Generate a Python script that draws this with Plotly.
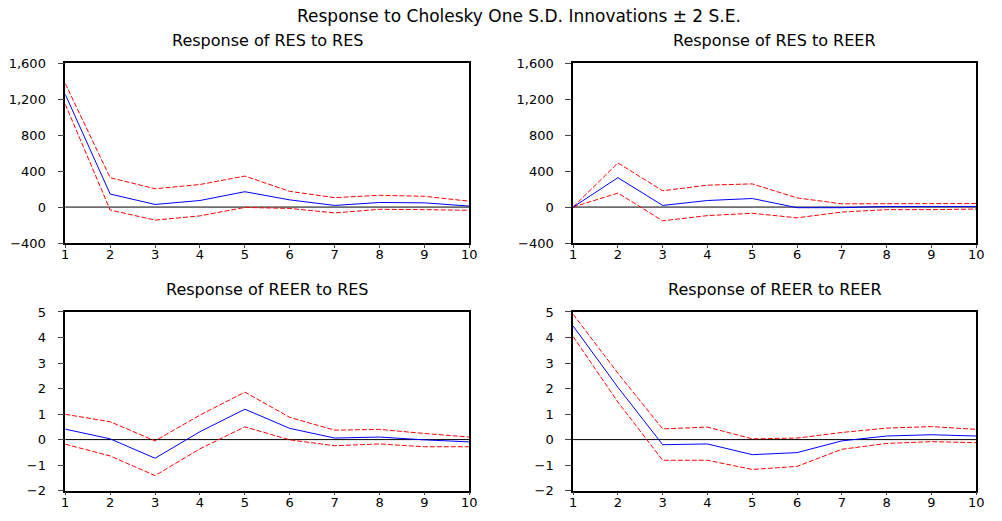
import plotly.graph_objects as go

periods = list(range(1, 11))

# Response of RES to RES
res_res_mean = [1255, 145, 29, 73, 171, 80, 18, 51, 47, 11]
res_res_up = [1375, 327, 204, 251, 345, 175, 105, 131, 120, 65]
res_res_lo = [1145, -33, -145, -98, -4, -15, -65, -25, -29, -36]

# Response of RES to REER
res_reer_mean = [0, 327, 18, 73, 95, -7, -7, 7, 7, 7]
res_reer_up = [0, 491, 182, 244, 258, 102, 36, 40, 40, 40]
res_reer_lo = [0, 156, -153, -95, -69, -120, -55, -29, -29, -22]

# Response of REER to RES
reer_res_mean = [0.41, 0.03, -0.73, 0.31, 1.19, 0.44, 0.06, 0.10, -0.01, -0.09]
reer_res_up = [0.99, 0.70, -0.05, 0.96, 1.86, 0.87, 0.37, 0.40, 0.24, 0.10]
reer_res_lo = [-0.18, -0.64, -1.41, -0.36, 0.50, -0.01, -0.24, -0.17, -0.28, -0.28]

# Response of REER to REER
reer_reer_mean = [4.45, 2.05, -0.20, -0.17, -0.59, -0.51, -0.05, 0.14, 0.19, 0.14]
reer_reer_up = [4.91, 2.60, 0.42, 0.49, 0.03, 0.06, 0.28, 0.45, 0.51, 0.40]
reer_reer_lo = [4.04, 1.47, -0.81, -0.81, -1.17, -1.05, -0.38, -0.15, -0.08, -0.12]

main_title = "Response to Cholesky One S.D. Innovations ± 2 S.E."
panel_titles = ["Response of RES to RES", "Response of RES to REER",
                "Response of REER to RES", "Response of REER to REER"]

panels = [
    (res_res_mean, res_res_up, res_res_lo),
    (res_reer_mean, res_reer_up, res_reer_lo),
    (reer_res_mean, reer_res_up, reer_res_lo),
    (reer_reer_mean, reer_reer_up, reer_reer_lo),
]

W, H = 1002, 521
xdoms = [(62 / W, 471 / W), (576 / W, 984 / W)]
ydoms = [(1 - 243 / H, 1 - 58 / H), (1 - 498 / H, 1 - 314 / H)]
yranges = [[-400, 1600], [-2, 5]]
ydticks = [400, 1]

FONT = "DejaVu Sans"

fig = go.Figure()
layout = dict(
    width=W, height=H,
    margin=dict(l=0, r=0, t=0, b=0),
    paper_bgcolor="white", plot_bgcolor="white",
    showlegend=False,
    font=dict(family=FONT, size=13, color="black"),
    annotations=[],
    shapes=[],
)

for i, (mean, up, lo) in enumerate(panels):
    r, c = divmod(i, 2)
    n = i + 1
    xa = "x" if n == 1 else f"x{n}"
    ya = "y" if n == 1 else f"y{n}"
    for series, color, dash in [(up, "#FF0000", "5px,2px"), (lo, "#FF0000", "5px,2px"), (mean, "#0000FF", "solid")]:
        fig.add_trace(go.Scatter(x=periods, y=series, mode="lines",
                                 line=dict(color=color, width=1, dash=dash),
                                 xaxis=xa, yaxis=ya, hoverinfo="skip"))
    axis_common = dict(showline=True, linecolor="black", linewidth=1.5, mirror=True,
                       showgrid=False, zeroline=False, ticks="outside",
                       tickcolor="#444444", tickfont=dict(family=FONT, size=13, color="black"))
    layout["xaxis" if n == 1 else f"xaxis{n}"] = dict(
        domain=list(xdoms[c]), anchor=ya, range=[1, 10], tickmode="linear", tick0=1, dtick=1,
        ticklen=3, ticklabelstandoff=-4, **axis_common)
    layout["yaxis" if n == 1 else f"yaxis{n}"] = dict(
        domain=list(ydoms[r]), anchor=xa, range=yranges[r], tickmode="linear",
        tick0=yranges[r][0], dtick=ydticks[r], tickformat=",", ticklen=6,
        ticklabelstandoff=9, **axis_common)
    # zero line
    layout["shapes"].append(dict(type="line", xref=f"{xa} domain", yref=ya,
                                 x0=0, x1=1, y0=0, y1=0,
                                 line=dict(color="black", width=1), layer="below"))
    # panel title
    layout["annotations"].append(dict(
        text=panel_titles[i], xref="paper", yref="paper",
        x=(xdoms[c][0] + xdoms[c][1]) / 2, y=ydoms[r][1] + 23 / H,
        xanchor="center", yanchor="middle", showarrow=False,
        font=dict(family=FONT, size=16, color="black")))

layout["annotations"].append(dict(
    text=main_title, xref="paper", yref="paper", x=521 / W, y=1 - 9 / H,
    xanchor="center", yanchor="middle", showarrow=False,
    font=dict(family=FONT, size=17, color="black")))

fig.update_layout(**layout)
fig.write_html("out.html", config={"displayModeBar": False},
               post_script="document.body.style.margin='0';")
